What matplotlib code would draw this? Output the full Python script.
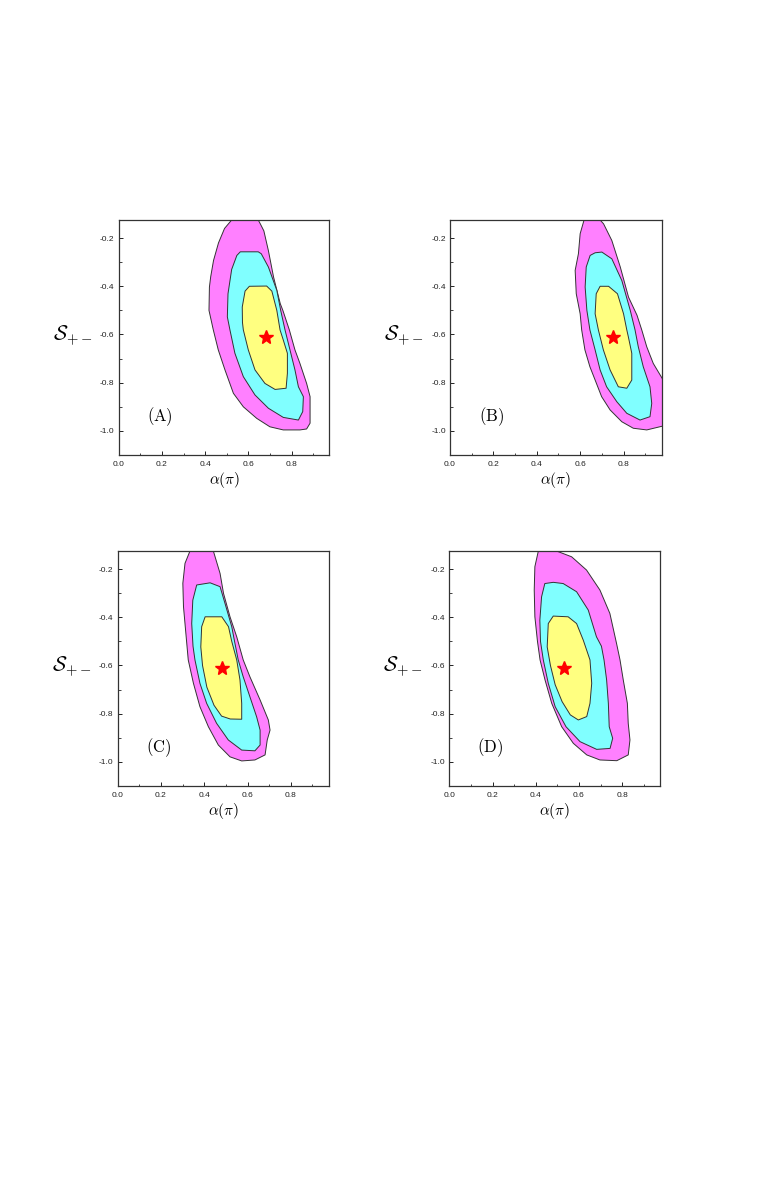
import matplotlib
matplotlib.use("Agg")
import matplotlib.pyplot as plt
from matplotlib.ticker import MultipleLocator

plt.rcParams['mathtext.fontset'] = 'cm'
plt.rcParams['font.family'] = ['Liberation Sans', 'DejaVu Sans']

panel_tags = ['A', 'B', 'C', 'D']
best_alpha = [0.68, 0.75, 0.48, 0.53]
best_s = [-0.61, -0.61, -0.61, -0.61]

# contour outlines, (alpha, S) pairs
a_outer = [(0.523, -0.125), (0.490, -0.160), (0.462, -0.220), (0.439, -0.293), (0.426, -0.360),
           (0.420, -0.403), (0.418, -0.500), (0.438, -0.581), (0.461, -0.664), (0.492, -0.747),
           (0.531, -0.844), (0.577, -0.900), (0.639, -0.948), (0.700, -0.983), (0.762, -0.996),
           (0.839, -0.996), (0.870, -0.992), (0.886, -0.968), (0.886, -0.858), (0.870, -0.803),
           (0.839, -0.720), (0.816, -0.664), (0.790, -0.581), (0.760, -0.500), (0.748, -0.472),
           (0.717, -0.362), (0.693, -0.252), (0.672, -0.170), (0.655, -0.140), (0.646, -0.125)]
a_mid = [(0.563, -0.257), (0.547, -0.272), (0.523, -0.330), (0.506, -0.431), (0.503, -0.527),
         (0.515, -0.581), (0.538, -0.678), (0.577, -0.775), (0.631, -0.851), (0.693, -0.906),
         (0.762, -0.944), (0.832, -0.955), (0.852, -0.920), (0.855, -0.858), (0.832, -0.817),
         (0.816, -0.747), (0.793, -0.664), (0.770, -0.581), (0.750, -0.500), (0.732, -0.417),
         (0.693, -0.320), (0.660, -0.265), (0.646, -0.257)]
a_inner = [(0.605, -0.400), (0.585, -0.420), (0.572, -0.486), (0.573, -0.550), (0.577, -0.581),
           (0.600, -0.664), (0.631, -0.747), (0.677, -0.803), (0.724, -0.828), (0.775, -0.823),
           (0.781, -0.761), (0.781, -0.678), (0.762, -0.623), (0.747, -0.581), (0.732, -0.500),
           (0.709, -0.420), (0.685, -0.399)]

b_outer = [(0.618, -0.125), (0.600, -0.182), (0.592, -0.265), (0.577, -0.334), (0.582, -0.431),
           (0.600, -0.514), (0.607, -0.581), (0.622, -0.664), (0.645, -0.734), (0.669, -0.789),
           (0.699, -0.858), (0.738, -0.913), (0.792, -0.962), (0.845, -0.989), (0.907, -0.996),
           (0.990, -0.978), (0.990, -0.800), (0.937, -0.720), (0.907, -0.651), (0.884, -0.581),
           (0.862, -0.520), (0.823, -0.445), (0.785, -0.320), (0.746, -0.210), (0.708, -0.141),
           (0.692, -0.125)]
b_mid = [(0.646, -0.272), (0.628, -0.320), (0.623, -0.403), (0.631, -0.500), (0.645, -0.581),
         (0.669, -0.664), (0.692, -0.747), (0.722, -0.817), (0.769, -0.879), (0.815, -0.927),
         (0.876, -0.955), (0.922, -0.941), (0.930, -0.886), (0.922, -0.817), (0.891, -0.734),
         (0.868, -0.651), (0.853, -0.581), (0.831, -0.500), (0.792, -0.376), (0.746, -0.286),
         (0.700, -0.258), (0.669, -0.261)]
b_inner = [(0.692, -0.400), (0.674, -0.431), (0.669, -0.514), (0.684, -0.581), (0.707, -0.664),
           (0.738, -0.747), (0.776, -0.817), (0.815, -0.823), (0.838, -0.789), (0.838, -0.678),
           (0.822, -0.609), (0.815, -0.581), (0.800, -0.514), (0.772, -0.431), (0.731, -0.400)]

c_outer = [(0.334, -0.125), (0.311, -0.176), (0.301, -0.259), (0.304, -0.356), (0.315, -0.467),
           (0.326, -0.577), (0.350, -0.674), (0.380, -0.771), (0.419, -0.854), (0.465, -0.930),
           (0.519, -0.979), (0.573, -0.996), (0.634, -0.992), (0.681, -0.971), (0.691, -0.909),
           (0.704, -0.868), (0.696, -0.826), (0.658, -0.743), (0.611, -0.647), (0.580, -0.577),
           (0.550, -0.481), (0.519, -0.398), (0.489, -0.301), (0.473, -0.218), (0.450, -0.149),
           (0.442, -0.125)]
c_mid = [(0.365, -0.266), (0.347, -0.329), (0.342, -0.426), (0.348, -0.520), (0.357, -0.577),
         (0.380, -0.674), (0.411, -0.757), (0.457, -0.840), (0.511, -0.909), (0.573, -0.951),
         (0.634, -0.954), (0.658, -0.930), (0.658, -0.868), (0.642, -0.813), (0.611, -0.730),
         (0.580, -0.647), (0.557, -0.577), (0.540, -0.500), (0.527, -0.439), (0.496, -0.343),
         (0.473, -0.273), (0.427, -0.257)]
c_inner = [(0.404, -0.398), (0.388, -0.439), (0.384, -0.523), (0.392, -0.600), (0.412, -0.690),
           (0.445, -0.765), (0.480, -0.810), (0.520, -0.822), (0.573, -0.823), (0.573, -0.757),
           (0.565, -0.660), (0.550, -0.577), (0.527, -0.500), (0.512, -0.439), (0.481, -0.398)]

d_outer = [(0.412, -0.125), (0.396, -0.190), (0.393, -0.287), (0.396, -0.398), (0.408, -0.500),
           (0.420, -0.577), (0.443, -0.660), (0.474, -0.757), (0.520, -0.854), (0.574, -0.923),
           (0.636, -0.971), (0.697, -0.992), (0.775, -0.995), (0.828, -0.971), (0.836, -0.909),
           (0.828, -0.840), (0.824, -0.757), (0.805, -0.660), (0.790, -0.577), (0.774, -0.509),
           (0.743, -0.384), (0.697, -0.287), (0.635, -0.204), (0.566, -0.149), (0.496, -0.125)]
d_mid = [(0.442, -0.260), (0.427, -0.315), (0.419, -0.412), (0.422, -0.500), (0.435, -0.577),
         (0.458, -0.674), (0.490, -0.771), (0.540, -0.854), (0.605, -0.916), (0.682, -0.948),
         (0.744, -0.944), (0.756, -0.902), (0.740, -0.854), (0.736, -0.757), (0.728, -0.660),
         (0.716, -0.577), (0.704, -0.520), (0.681, -0.481), (0.643, -0.370), (0.589, -0.294),
         (0.527, -0.260), (0.481, -0.255)]
d_inner = [(0.481, -0.395), (0.458, -0.426), (0.453, -0.523), (0.468, -0.600), (0.490, -0.680),
           (0.522, -0.750), (0.560, -0.805), (0.597, -0.826), (0.636, -0.812), (0.651, -0.757),
           (0.659, -0.674), (0.651, -0.577), (0.620, -0.495), (0.589, -0.426), (0.550, -0.398)]

regions = [(a_outer, a_mid, a_inner), (b_outer, b_mid, b_inner),
           (c_outer, c_mid, c_inner), (d_outer, d_mid, d_inner)]
fills = ['#ff80ff', '#80ffff', '#ffff80']

fig = plt.figure(figsize=(7.63, 11.99), dpi=100)
# axes boxes in pixels: left, top, right, bottom
boxes = [(118.7, 220, 329.3, 455), (450, 220, 661.5, 455),
         (117.7, 551, 328.7, 786), (449.3, 551, 660, 786)]
W, H = 763, 1199

for i, (l, t, r, b) in enumerate(boxes):
    ax = fig.add_axes([l / W, 1 - b / H, (r - l) / W, (b - t) / H])
    for poly, col in zip(regions[i], fills):
        xs = [p[0] for p in poly]
        ys = [p[1] for p in poly]
        ax.fill(xs, ys, facecolor=col, edgecolor='#333333', linewidth=0.7, joinstyle='round')
    ax.plot(best_alpha[i], best_s[i], marker='*', color='red', markersize=10, linestyle='none')
    ax.set_xlim(0, 0.975)
    ax.set_ylim(-1.1, -0.125)
    ax.xaxis.set_minor_locator(MultipleLocator(0.1))
    ax.yaxis.set_minor_locator(MultipleLocator(0.1))
    ax.set_xticks([0.0, 0.2, 0.4, 0.6, 0.8])
    ax.set_xticklabels(['0.0', '0.2', '0.4', '0.6', '0.8'])
    ax.set_yticks([-1.0, -0.8, -0.6, -0.4, -0.2])
    ax.set_yticklabels(['-1.0', '-0.8', '-0.6', '-0.4', '-0.2'])
    ax.tick_params(which='both', direction='in', labelsize=6, top=False, right=False,
                   colors='#222222')
    ax.tick_params(axis='x', pad=4)
    ax.tick_params(axis='y', pad=3)
    ax.tick_params(which='major', length=3, width=0.7)
    ax.tick_params(which='minor', length=1.8, width=0.6)
    for s in ax.spines.values():
        s.set_linewidth(0.9)
        s.set_color('#333333')
    ax.set_xlabel(r'$\alpha(\pi)$', fontsize=11, labelpad=2)
    ax.text(-0.22, 0.51, r'$\mathcal{S}_{+-}$', transform=ax.transAxes,
            fontsize=15, ha='center', va='center')
    ax.text(0.19, -0.942, r'$\mathrm{(' + panel_tags[i] + ')}$', fontsize=12,
            ha='center', va='center')

fig.savefig('out.png', dpi=100)
